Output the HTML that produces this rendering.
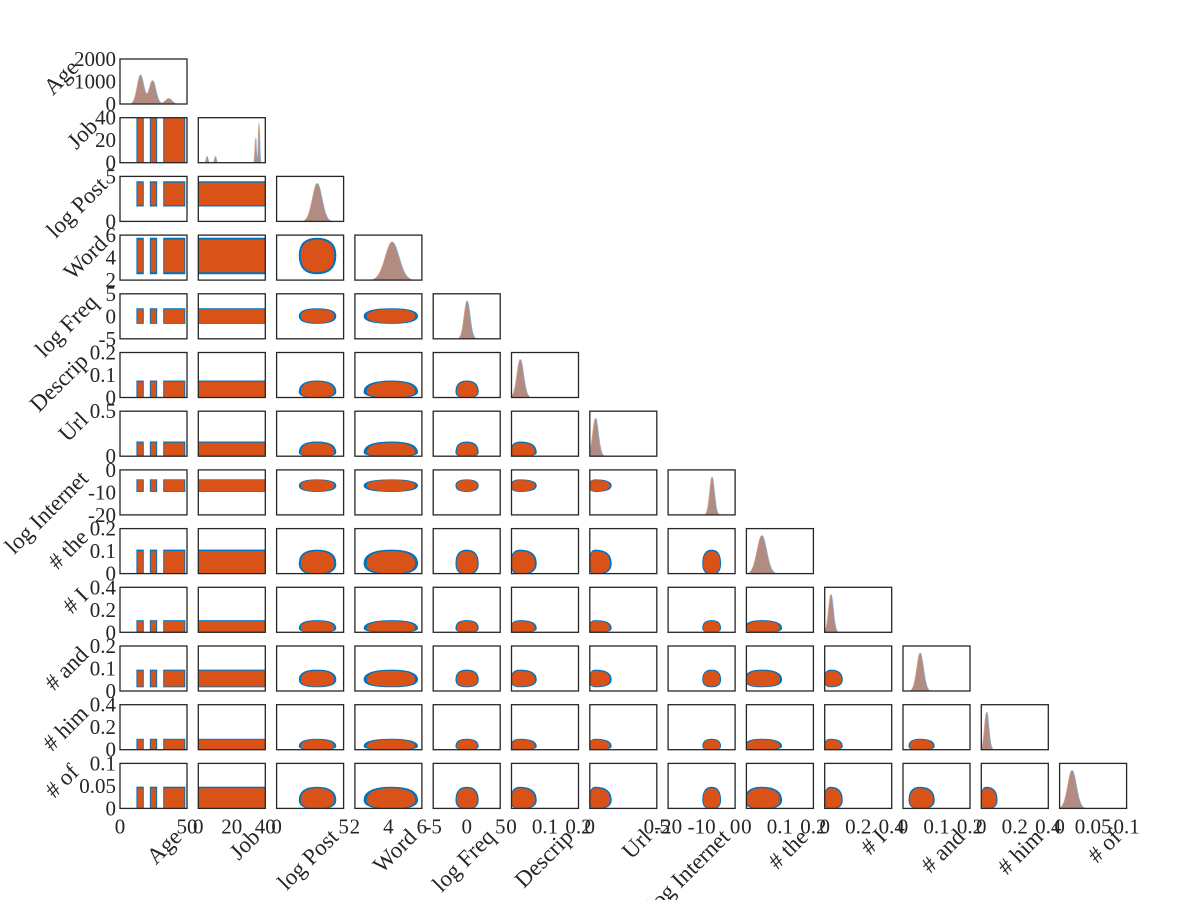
<!DOCTYPE html>
<html><head><meta charset="utf-8"><style>
html,body{margin:0;padding:0;background:#fff;width:1200px;height:900px;overflow:hidden}
svg text{font-family:"Liberation Serif",serif;fill:#262626}
</style></head><body>
<svg id="c" width="1200" height="900"></svg>
<script>
const names=["Age","Job","log Post","Word","log Freq","Descrip","Url","log Internet","# the","# I","# and","# him","# of"];
const axMin=[0,0,0,2,-5,0,0,-20,0,0,0,0,0];
const axMax=[50,40,5,6,5,0.2,0.5,0,0.2,0.4,0.2,0.4,0.1];
const ticks=[[0,50],[0,20,40],[0,5],[2,4,6],[-5,0,5],[0,0.1,0.2],[0,0.5],[-20,-10,0],[0,0.1,0.2],[0,0.2,0.4],[0,0.1,0.2],[0,0.2,0.4],[0,0.05,0.1]];
const yTicksRow0=[0,1000,2000];
const blobLo=[13,0,1.8,2.7,-1.5,0,0,-9.5,0,0,0.02,0,0];
const blobHi=[48,40,4.3,5.6,1.6,0.07,0.15,-4.5,0.1,0.1,0.09,0.09,0.045];
const blobC=[30,20,3,4.2,0,0.025,0.04,-7,0.045,0.035,0.05,0.03,0.018];
const ageBands=[[13,17],[23,27],[33,48]];
const ageHist=[[15,1300],[24,1050],[36,250]];
const NS="http://www.w3.org/2000/svg";
const svg=document.getElementById('c');
const X0=120,DX=78.3,W=67,Y0=59,DY=58.7,H=45;
function el(t,a,p){const e=document.createElementNS(NS,t);for(const k in a)e.setAttribute(k,a[k]);(p||svg).appendChild(e);return e;}
function sx(v,i,x){return x+(v-axMin[i])/(axMax[i]-axMin[i])*W;}
function sy(v,j,y){return y+H-(v-axMin[j])/(axMax[j]-axMin[j])*H;}
function fmt(v){return String(v);}
const n=names.length;
for(let r=0;r<n;r++){
 for(let c=0;c<=r;c++){
  const x=X0+c*DX,y=Y0+r*DY;
  const g=el('g',{});
  
  
  const clip='cl'+r+'_'+c;
  const cp=el('clipPath',{id:clip},g);el('rect',{x:x,y:y,width:W,height:H},cp);
  const inner=el('g',{'clip-path':'url(#'+clip+')'},g);
  if(r===c){
   let peaks;
   if(c===0){peaks=ageHist.map(p=>[p[0],p[1]/2000,2.5]);}
   else if(c===1){peaks=[[36,0.95,0.4],[34,0.6,0.4],[5,0.15,0.5],[10,0.15,0.5]];}
   else peaks=[[blobC[c],0.85,(blobHi[c]-blobLo[c])/7]];
   ['#4a90d0','#c87a5a'].forEach((col,k)=>{
    let d='M'+x+','+(y+H);
    for(let s=0;s<=120;s++){
     const v=axMin[c]+(axMax[c]-axMin[c])*s/120;let h=0;
     peaks.forEach(p=>{const z=(v-p[0]-(k?0:(axMax[c]-axMin[c])*0.012))/p[2];h+=p[1]*Math.exp(-z*z/2);});
     d+=' L'+sx(v,c,x).toFixed(1)+','+(y+H-Math.min(h,1)*H).toFixed(1);
    }
    d+=' L'+(x+W)+','+(y+H)+'Z';
    const p=el('path',{d:d,fill:col,'fill-opacity':0.7},inner);
    
    
   });
  } else {
   ['#0072bd','#d95319'].forEach((col,k)=>{
    const grow=k?1:1.12;
    const yc=blobC[r],yl=blobLo[r],yh=blobHi[r];
    const y1=sy(yc+(yh-yc)*grow,r,y),y2=sy(yc-(yc-yl)*grow,r,y);
    if(c===0||c===1){
     const bands=c===0?ageBands:[[0,40]];
     bands.forEach(b=>{
      const rr=el('rect',{x:sx(b[0],c,x)-(k?0:1),y:y1,width:sx(b[1],c,x)-sx(b[0],c,x)+(k?0:2),height:y2-y1,fill:col},inner);
      
      
     });
    } else {
     const xc=blobC[c],xl=blobLo[c],xh=blobHi[c];
     const ax1=sx(xc-(xc-xl)*grow,c,x),ax2=sx(xc+(xh-xc)*grow,c,x),cx=sx(xc,c,x),cy=sy(yc,r,y);
     const d='M'+ax1+','+cy+' Q'+ax1+','+y1+' '+cx+','+y1+' Q'+ax2+','+y1+' '+ax2+','+cy+' Q'+ax2+','+y2+' '+cx+','+y2+' Q'+ax1+','+y2+' '+ax1+','+cy+'Z';
     const p=el('path',{d:d,fill:col},inner);
     
     
    }
   });
  }
  el('rect',{x:x,y:y,width:W,height:H,fill:'none',stroke:'#262626','stroke-width':1.3},g);
  if(c===0){
   const yt=r===0?yTicksRow0:ticks[r];const lo=r===0?0:axMin[r],hi=r===0?2000:axMax[r];
   let maxw=0;
   yt.forEach(v=>{
    const yy=y+H-(v-lo)/(hi-lo)*H;
    const t=el('text',{x:x-4,y:yy+7,'text-anchor':'end','font-size':21},svg);t.textContent=fmt(v);
    
    
    maxw=Math.max(maxw,fmt(v).length*9.5);
   });
   const lx=x-maxw-2,ly=y+10;
   const t=el('text',{x:lx,y:ly,'text-anchor':'end','font-size':23,transform:'rotate(-45 '+lx+' '+ly+')'},svg);
   t.textContent=names[r];
   
   
  }
  if(r===n-1){
   ticks[c].forEach(v=>{
    const t=el('text',{x:sx(v,c,x),y:y+H+25,'text-anchor':'middle','font-size':21},svg);t.textContent=fmt(v);
    
    
   });
   const lx=x+W-4,ly=y+H+30;
   const t=el('text',{x:lx,y:ly,'text-anchor':'end','font-size':23,transform:'rotate(-45 '+lx+' '+ly+')'},svg);
   t.textContent=names[c];
   
   
  }
 }
}
</script>
</body></html>
